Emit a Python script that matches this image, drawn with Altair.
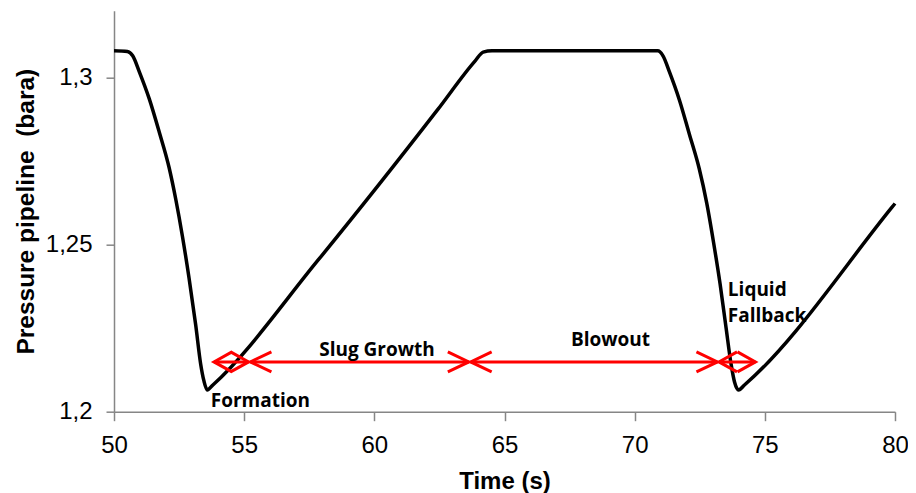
import altair as alt
import pandas as pd

# Pressure trace (time in s, pressure in bara)
times = [50.0, 50.515, 50.718, 50.973, 51.355, 51.737, 52.118, 52.374, 52.626,
         52.882, 53.137, 53.328, 53.454, 53.58, 53.798, 57.844, 62.424, 63.874,
         64.179, 64.523, 70.885, 71.088, 71.336, 71.718, 72.099, 72.481, 72.767,
         73.034, 73.282, 73.511, 73.702, 73.836, 73.989, 74.218, 79.855, 80.0]
pressures = [1.3080, 1.3078, 1.3065, 1.3017, 1.2936, 1.2837, 1.2730, 1.2635, 1.2526,
             1.2400, 1.2260, 1.2143, 1.2092, 1.2065, 1.2080, 1.2454, 1.2903, 1.3050,
             1.3076, 1.3080, 1.3080, 1.3065, 1.3017, 1.2933, 1.2831, 1.2727, 1.2625,
             1.2505, 1.2382, 1.2251, 1.2143, 1.2089, 1.2065, 1.2080, 1.2609, 1.2623]

# Phase arrows (double headed)
phase_names = ["Formation", "Slug Growth", "Blowout", "Liquid Fallback"]
phase_start = [53.84, 55.24, 63.70, 73.24]
phase_end = [55.17, 63.63, 73.18, 74.64]
arrow_level = 1.2149

# Annotation labels
center_labels = ["Formation", "Slug Growth", "Blowout"]
center_t = [55.62, 60.10, 69.07]
center_p = [1.2032, 1.2185, 1.2215]
left_labels = ["Liquid", "Fallback"]
left_t = [73.58, 73.58]
left_p = [1.2364, 1.2287]

x_ticks = [50, 55, 60, 65, 70, 75, 80]
y_ticks = [1.2, 1.25, 1.3]

line_df = pd.DataFrame({"t": times, "p": pressures})
arrow_df = pd.DataFrame({"t": phase_start, "t2": phase_end, "p": [arrow_level] * 4,
                         "name": phase_names})
heads = []
for n, s, e in zip(phase_names, phase_start, phase_end):
    kind = "small" if (e - s) < 2 else "big"
    heads.append({"t": s, "p": arrow_level, "head": "L-" + kind})
    heads.append({"t": e, "p": arrow_level, "head": "R-" + kind})
head_df = pd.DataFrame(heads)
center_df = pd.DataFrame({"t": center_t, "p": center_p, "label": center_labels})
left_df = pd.DataFrame({"t": left_t, "p": left_p, "label": left_labels})

GRAY = "#868686"
xscale = alt.Scale(domain=[50, 80], nice=False, zero=False)
yscale = alt.Scale(domain=[1.2, 1.32], nice=False, zero=False)
XT = "Time (s)"
YT = "Pressure pipeline\u00a0 (bara)"

xaxis = alt.Axis(values=x_ticks, title=XT, grid=False, domainColor=GRAY, domainWidth=1.5,
                 tickColor=GRAY, tickWidth=1.5, tickSize=9, labelFont="Liberation Sans",
                 labelFontSize=24, labelColor="black", labelPadding=13, labelFlush=False,
                 titleFont="Liberation Sans", titleFontSize=24, titleFontWeight="bold",
                 titleColor="black", titlePadding=12)
yaxis = alt.Axis(values=y_ticks, title=YT, grid=False, domainColor=GRAY, domainWidth=1.5,
                 tickColor=GRAY, tickWidth=1.5, tickSize=8, labelFont="Liberation Sans",
                 labelFontSize=24, labelColor="black", labelPadding=14,
                 labelExpr="replace(format(datum.value, '.2~f'), '.', ',')",
                 titleFont="Liberation Sans", titleFontSize=24.5, titleFontWeight="bold",
                 titleColor="black", titlePadding=7)

line = alt.Chart(line_df).mark_line(color="black", strokeWidth=3.5, interpolate="monotone").encode(
    x=alt.X("t:Q", scale=xscale, axis=xaxis, title=XT),
    y=alt.Y("p:Q", scale=yscale, axis=yaxis, title=YT),
)

rules = alt.Chart(arrow_df).mark_rule(color="#ff0000", strokeWidth=3).encode(
    x=alt.X("t:Q", scale=xscale, title=XT),
    x2="t2:Q",
    y=alt.Y("p:Q", scale=yscale, title=YT),
)

shape_domain = ["L-big", "R-big", "L-small", "R-small"]
shape_range = ["M2.1,-1L0,0L2.1,1", "M-2.1,-1L0,0L-2.1,1",
               "M1.8,-1L0,0L1.8,1", "M-1.8,-1L0,0L-1.8,1"]
heads_layer = alt.Chart(head_df).mark_point(filled=False, stroke="#ff0000", strokeWidth=3,
                                            opacity=1, size=400).encode(
    x=alt.X("t:Q", scale=xscale, title=XT),
    y=alt.Y("p:Q", scale=yscale, title=YT),
    shape=alt.Shape("head:N", scale=alt.Scale(domain=shape_domain, range=shape_range), legend=None),
)

text_c = alt.Chart(center_df).mark_text(font="Open Sans", fontWeight="bold", fontSize=19,
                                         color="black", align="center", baseline="middle").encode(
    x=alt.X("t:Q", scale=xscale, title=XT),
    y=alt.Y("p:Q", scale=yscale, title=YT),
    text="label:N",
)
text_l = alt.Chart(left_df).mark_text(font="Open Sans", fontWeight="bold", fontSize=19,
                                       color="black", align="left", baseline="middle").encode(
    x=alt.X("t:Q", scale=xscale, title=XT),
    y=alt.Y("p:Q", scale=yscale, title=YT),
    text="label:N",
)

chart = alt.layer(line, rules, heads_layer, text_c, text_l).properties(
    width=781, height=401,
    autosize=alt.AutoSizeParams(type="none"),
    padding={"left": 106, "top": 2.7, "right": 13, "bottom": 84},
).configure_view(stroke="transparent")

chart.save("out.html", embed_options={"renderer": "svg", "actions": False})
